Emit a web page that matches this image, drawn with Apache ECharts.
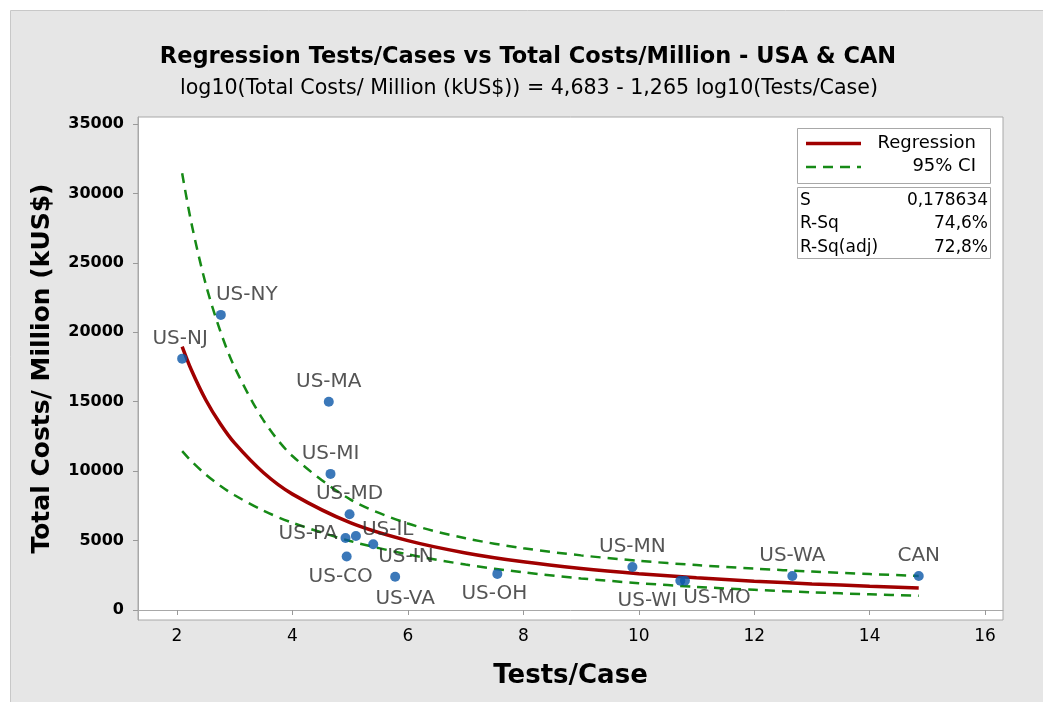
<!DOCTYPE html>
<html>
<head>
<meta charset="utf-8">
<script src="https://cdn.jsdelivr.net/npm/echarts@6/dist/echarts.min.js"></script>
<style>
  html, body { margin: 0; padding: 0; background: #fff; }
  #chart { width: 1043px; height: 702px; }
</style>
</head>
<body>
<div id="chart"></div>
<script>
// points
const regions = ['US-NJ', 'US-NY', 'US-MA', 'US-MI', 'US-MD', 'US-PA', 'US-IL', 'US-IN', 'US-CO', 'US-VA', 'US-OH', 'US-MN', 'US-WI', 'US-MO', 'US-WA', 'CAN']
const testsPerCase = [2.09, 2.76, 4.63, 4.66, 4.99, 4.92, 5.10, 5.40, 4.94, 5.78, 7.55, 9.89, 10.72, 10.80, 12.66, 14.85]
const costsPerMillion = [18100, 21250, 15000, 9800, 6900, 5180, 5330, 4730, 3850, 2400, 2600, 3100, 2100, 2100, 2450, 2450]

// fitted line and 95% CI
const fitX = [2.09, 2.25, 2.5, 2.75, 3, 3.5, 4, 5, 6, 7, 8, 9, 10, 11, 12, 13, 14, 14.85]
const fitY = [18970, 17280, 15120, 13410, 12010, 9880, 8345, 6292, 4996, 4111, 3472, 2991, 2618, 2320, 2078, 1879, 1711, 1588]
const ciUpper = [31450, 27860, 23440, 20090, 17460, 13650, 11090, 7970, 6230, 5163, 4448, 3933, 3542, 3232, 2978, 2768, 2587, 2454]
const ciLower = [11440, 10720, 9755, 8950, 8260, 7150, 6280, 4966, 4006, 3273, 2710, 2275, 1935, 1665, 1450, 1276, 1132, 1028]

const xTicks = [2, 4, 6, 8, 10, 12, 14, 16]
const yTicks = [0, 5000, 10000, 15000, 20000, 25000, 30000, 35000]

const titleText = 'Regression Tests/Cases vs Total Costs/Million - USA & CAN'
const subtitleText = 'log10(Total Costs/ Million (kUS$)) = 4,683 - 1,265 log10(Tests/Case)'
const legendNames = ['Regression', '95% CI']
const statNames = ['S', 'R-Sq', 'R-Sq(adj)']
const statValues = ['0,178634', '74,6%', '72,8%']

// label placement per point
const labelPos = {
  'US-NJ': { position: 'top', offset: [-2, 0] },
  'US-NY': { position: 'top', offset: [26, 0] },
  'US-MA': { position: 'top' },
  'US-MI': { position: 'top' },
  'US-MD': { position: 'top' },
  'US-PA': { position: 'left', offset: [2, -4] },
  'US-IL': { position: 'right', offset: [-4, -6] },
  'US-IN': { position: 'right', offset: [-5, 12] },
  'US-CO': { position: 'bottom', offset: [-6, 0] },
  'US-VA': { position: 'bottom', offset: [10, 2] },
  'US-OH': { position: 'bottom', offset: [-3, 0] },
  'US-MN': { position: 'top' },
  'US-WI': { position: 'bottom', offset: [-33, 0] },
  'US-MO': { position: 'bottom', offset: [32, -3] },
  'US-WA': { position: 'top' },
  'CAN': { position: 'top' },
}

const FONT = '"DejaVu Sans", "Open Sans", sans-serif'
const RED = '#a00000'
const GREEN = '#168a16'
const chart = echarts.init(document.getElementById('chart'))

const points = regions.map((name, i) => ({
  name: name,
  value: [testsPerCase[i], costsPerMillion[i]],
  label: labelPos[name],
}))

const curve = (ys) => fitX.map((x, i) => [x, ys[i]])

const option = {
  backgroundColor: '#fff',
  animation: false,
  textStyle: { fontFamily: FONT },
  graphic: [
    {
      type: 'rect',
      z: -10,
      shape: { x: 10.5, y: 10.5, width: 1040, height: 700 },
      style: { fill: '#e6e6e6', stroke: '#c8c8c8', lineWidth: 1 },
    },
    {
      type: 'text',
      z: 5,
      x: 528,
      y: 57,
      style: { text: titleText, font: 'bold 22.5px ' + FONT, fill: '#000', align: 'center', verticalAlign: 'middle' },
    },
    {
      type: 'text',
      z: 5,
      x: 529,
      y: 89,
      style: { text: subtitleText, font: '20.6px ' + FONT, fill: '#000', align: 'center', verticalAlign: 'middle' },
    },
    // legend box
    {
      type: 'rect',
      z: 10,
      shape: { x: 797.5, y: 128.5, width: 193, height: 55 },
      style: { fill: '#fff', stroke: '#a8a8a8', lineWidth: 1 },
    },
    {
      type: 'line',
      z: 11,
      shape: { x1: 806, y1: 143.5, x2: 861, y2: 143.5 },
      style: { stroke: RED, lineWidth: 3.5 },
    },
    {
      type: 'line',
      z: 11,
      shape: { x1: 806, y1: 167, x2: 861, y2: 167 },
      style: { stroke: GREEN, lineWidth: 2.5, lineDash: [10, 7] },
    },
    ...legendNames.map((s, i) => ({
      type: 'text',
      z: 11,
      x: 976,
      y: 143 + i * 23,
      style: { text: s, font: '18px ' + FONT, fill: '#000', align: 'right', verticalAlign: 'middle' },
    })),
    // stats box
    {
      type: 'rect',
      z: 10,
      shape: { x: 797.5, y: 187.5, width: 193, height: 71 },
      style: { fill: '#fff', stroke: '#a8a8a8', lineWidth: 1 },
    },
    ...statNames.map((s, i) => ({
      type: 'text',
      z: 11,
      x: 800,
      y: 200.5 + i * 23.5,
      style: { text: s, font: '17px ' + FONT, fill: '#000', align: 'left', verticalAlign: 'middle' },
    })),
    ...statValues.map((s, i) => ({
      type: 'text',
      z: 11,
      x: 988,
      y: 200.5 + i * 23.5,
      style: { text: s, font: '17px ' + FONT, fill: '#000', align: 'right', verticalAlign: 'middle' },
    })),
  ],
  grid: {
    left: 138,
    right: 40,
    top: 117,
    bottom: 82,
    show: true,
    backgroundColor: '#fff',
    borderColor: '#a8a8a8',
    borderWidth: 1,
  },
  xAxis: {
    type: 'value',
    min: 1.325,
    max: 16.31,
    name: 'Tests/Case',
    nameLocation: 'middle',
    nameGap: 43,
    nameTextStyle: { fontSize: 26, fontWeight: 'bold', color: '#000', fontFamily: FONT },
    splitLine: { show: false },
    axisLine: { show: true, lineStyle: { color: '#a8a8a8' } },
    axisTick: { show: true, length: 5, lineStyle: { color: '#999' }, customValues: xTicks },
    axisLabel: { customValues: xTicks, fontSize: 17, color: '#000', margin: 8, formatter: (v) => String(v) },
  },
  yAxis: {
    type: 'value',
    min: -720,
    max: 35500,
    name: 'Total Costs/ Million (kUS$)',
    nameLocation: 'middle',
    nameGap: 83,
    nameTextStyle: { fontSize: 25, fontWeight: 'bold', color: '#000', fontFamily: FONT },
    splitLine: { show: false },
    axisLine: { show: true, lineStyle: { color: '#a8a8a8' } },
    axisTick: { show: true, length: 5, lineStyle: { color: '#999' }, customValues: yTicks },
    axisLabel: { customValues: yTicks, fontSize: 16, fontWeight: 'bold', color: '#000', margin: 14, formatter: (v) => String(v) },
  },
  series: [
    {
      name: '95% CI',
      type: 'line',
      data: curve(ciUpper),
      smooth: 0.3,
      symbol: 'none',
      lineStyle: { color: GREEN, width: 2.5, type: [10, 7] },
      z: 2,
    },
    {
      name: '95% CI',
      type: 'line',
      data: curve(ciLower),
      smooth: 0.3,
      symbol: 'none',
      lineStyle: { color: GREEN, width: 2.5, type: [10, 7] },
      z: 2,
    },
    {
      name: 'Regression',
      type: 'line',
      data: curve(fitY),
      smooth: 0.3,
      symbol: 'none',
      lineStyle: { color: RED, width: 3.5 },
      z: 3,
    },
    {
      name: 'points',
      type: 'scatter',
      data: points,
      symbolSize: 10,
      itemStyle: { color: '#0a56a8' },
      z: 4,
      label: {
        show: true,
        formatter: '{b}',
        fontSize: 20,
        color: '#2b2b2b',
        distance: 5,
        fontFamily: FONT,
      },
    },
  ],
}

chart.setOption(option)
</script>
</body>
</html>
